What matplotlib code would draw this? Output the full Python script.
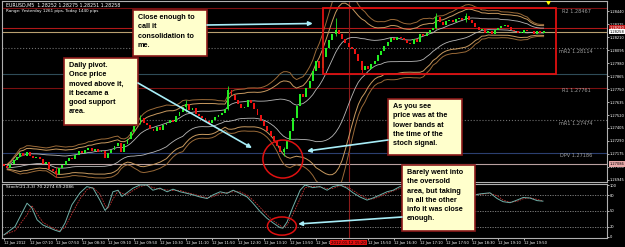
import matplotlib
matplotlib.use('Agg')
import matplotlib.pyplot as plt
from matplotlib.patches import Ellipse, Rectangle
import numpy as np
import pandas as pd

# EURUSD M5, 12 Jan 2012 (bar 0 = 06:30)
first_open = 1.2709
closes = [
    1.2707, 1.2705, 1.2709, 1.2712, 1.2715, 1.2718, 1.2716, 1.2719, 1.2716, 1.2714,
    1.2715, 1.2713, 1.2709, 1.2710, 1.2704, 1.2702, 1.2700, 1.2705, 1.2708, 1.2711,
    1.2714, 1.2713, 1.2717, 1.2720, 1.2718, 1.2721, 1.2723, 1.2720, 1.2722, 1.2719,
    1.2720, 1.2714, 1.2718, 1.2721, 1.2725, 1.2727, 1.2719, 1.2726, 1.2731, 1.2737,
    1.2742, 1.2746, 1.2749, 1.2745, 1.2743, 1.2740, 1.2738, 1.2741, 1.2739, 1.2743,
    1.2745, 1.2748, 1.2746, 1.2751, 1.2755, 1.2759, 1.2762, 1.2756, 1.2758, 1.2753,
    1.2751, 1.2749, 1.2747, 1.2745, 1.2748, 1.2750, 1.2752, 1.2754, 1.2757, 1.2774,
    1.2770, 1.2765, 1.2762, 1.2758, 1.2759, 1.2765, 1.2763, 1.2757, 1.2752, 1.2747,
    1.2742, 1.2738, 1.2733, 1.2729, 1.2725, 1.2719, 1.2722, 1.2730, 1.2738, 1.2749,
    1.2760, 1.2771, 1.2768, 1.2776, 1.2782, 1.2791, 1.2800, 1.2794, 1.2803, 1.2811,
    1.2818, 1.2824, 1.2827, 1.2824, 1.2819, 1.2816, 1.2812, 1.2810, 1.2806, 1.2800,
    1.2792, 1.2795, 1.2793, 1.2797, 1.2800, 1.2805, 1.2809, 1.2813, 1.2817, 1.2820,
    1.2818, 1.2821, 1.2820, 1.2818, 1.2816, 1.2815, 1.2819, 1.2817, 1.2824, 1.2822,
    1.2825, 1.2827, 1.2829, 1.2839, 1.2834, 1.2832, 1.2835, 1.2836, 1.2834, 1.2837,
    1.2838, 1.2836, 1.2840, 1.2836, 1.2833, 1.2830, 1.2827, 1.2828, 1.2825, 1.2826,
    1.2824, 1.2827, 1.2829, 1.2831, 1.2832, 1.2830, 1.2827, 1.2826, 1.2825, 1.2825,
    1.2827, 1.2826, 1.2826, 1.2824, 1.2826, 1.2825, 1.2826,
]
# a few visible wicks
wick_bars = [16, 42, 56, 69, 86, 102, 110, 133, 142]
wick_hi   = [1.2706, 1.2752, 1.2765, 1.2778, 1.2724, 1.2838, 1.2797, 1.2842, 1.2842]
wick_lo   = [1.2697, 1.2744, 1.2755, 1.2756, 1.2716, 1.2822, 1.2789, 1.2828, 1.2834]

pivot_names  = ['R2', 'mR2', 'R1', 'mR1', 'DPV']
pivot_values = [1.28467, 1.28114, 1.27761, 1.27474, 1.27186]
pivot_colors = ['#7a1010', '#707070', '#7a1010', '#707070', '#2b3f70']
pivot_styles = ['-', ':', '-', ':', '-']
other_levels = [1.27882, 1.27086]
other_colors = ['#2f4c58', '#b8a0a0']
ask, bid = 1.28290, 1.28258

price_ticks = [1.28440, 1.28325, 1.28210, 1.28095, 1.27980, 1.27865, 1.27750,
               1.27635, 1.27520, 1.27405, 1.27290, 1.27175, 1.27060, 1.26945]

stoch_bar = [0, 3.4, 7.1, 8.6, 10.2, 12, 14.2, 15.7, 17.2, 18.8, 20.9, 23.4, 25.5,
             27.4, 29.5, 31.1, 32, 33.5, 35.1, 36.3, 37.8, 39.7, 41.8, 44, 45.8, 48,
             50.2, 52, 54.2, 56.3, 58.2, 60.3, 62.5, 64.3, 66.5, 68.6, 70.5, 72.6,
             74.8, 76.6, 78.8, 80.9, 82.8, 84.9, 85.8, 87.1, 88.9, 91.1, 92.6, 95,
             97.2, 99.4, 101.2, 103.4, 105.5, 107.4, 109.5, 111.7, 113.5, 115.7,
             117.8, 119.7, 121.8, 125, 128, 131, 134, 137, 140, 143, 145, 146.5,
             149.5, 151.7, 153.5, 155.7, 157.8, 159.7, 161.8, 164, 165.8]
stoch_k = [4, 20, 65, 56, 33, 23, 17, 13, 10, 27, 62, 85, 97, 94, 71, 51, 58, 87,
           90, 78, 85, 94, 100, 100, 90, 94, 87, 92, 87, 84, 81, 77, 74, 81, 87,
           84, 90, 84, 77, 65, 49, 36, 27, 18, 17, 29, 58, 90, 100, 95, 97, 90, 97,
           100, 94, 85, 77, 71, 75, 81, 87, 90, 97, 93, 90, 94, 96, 91, 88, 84, 81,
           83, 85, 74, 68, 66, 71, 76, 75, 70, 69]
stoch_levels = [80, 50, 20]
stoch_ticks = [100, 80, 50, 20, 0]

time_bars = list(range(0, 161, 8))
time_labels = ['12 Jan 2012', '12 Jan 07:10', '12 Jan 07:50', '12 Jan 08:30',
               '12 Jan 09:10', '12 Jan 09:50', '12 Jan 10:30', '12 Jan 11:10',
               '12 Jan 11:50', '12 Jan 12:30', '12 Jan 13:10', '12 Jan 13:50',
               '12 Jan 14:30', '', '12 Jan 15:50', '12 Jan 16:30',
               '12 Jan 17:10', '12 Jan 17:50', '12 Jan 18:30', '12 Jan 19:10',
               '12 Jan 19:50']
cursor_bar = 106

# ---------------------------------------------------------------------------
W, H = 625, 247
fig = plt.figure(figsize=(W / 100, H / 100), dpi=100, facecolor='black')


def axrect(x0, y0, x1, y1):
    return [x0 / W, 1 - y1 / H, (x1 - x0) / W, (y1 - y0) / H]


ax = fig.add_axes(axrect(2, 1, 607, 182), facecolor='black')
sx = fig.add_axes(axrect(2, 184, 607, 238), facecolor='black', sharex=ax)

n = len(closes)
bars = np.arange(n)
opens = [first_open] + closes[:-1]
s = pd.Series(closes)
ma = s.rolling(20, min_periods=2).mean()
sd = s.rolling(20, min_periods=2).std(ddof=0)
for k, col, lw in [(2.5, '#9a6a38', 0.7), (2, '#c89a60', 0.7), (1, '#b8b8b8', 0.6)]:
    ax.plot(bars, ma + k * sd, color=col, lw=lw, zorder=2)
    ax.plot(bars, ma - k * sd, color=col, lw=lw, zorder=2)

for lvl, col, ls in zip(pivot_values, pivot_colors, pivot_styles):
    ax.axhline(lvl, color=col, ls=ls, lw=0.8, zorder=1)
for name, lvl in zip(pivot_names, pivot_values):
    ax.text(176, lvl - 0.00006, f'{name} {lvl:.5f}', color='#a0a0a0', fontsize=3.6,
            ha='center', va='top', zorder=3)
for lvl, col in zip(other_levels, other_colors):
    ax.axhline(lvl, color=col, lw=0.8, zorder=1)
ax.axhline(ask, color='#b01818', lw=0.8, zorder=1)
ax.axhline(bid, color='#b8a070', lw=0.8, zorder=1)

up = np.array(closes) >= np.array(opens)
body_lo = np.minimum(opens, closes)
body_h = np.maximum(np.abs(np.array(closes) - np.array(opens)), 0.00004)
colors = np.where(up, '#22ee22', '#ee1111')
for b, hi, lo in zip(wick_bars, wick_hi, wick_lo):
    ax.vlines(b, lo, hi, color=colors[b], lw=0.6, zorder=3)
ax.bar(bars, body_h, bottom=body_lo, width=0.6, color=colors, zorder=4)

ax.axvline(cursor_bar, color='#8b1a1a', lw=0.8, zorder=1)
sx.axvline(cursor_bar, color='#8b1a1a', lw=0.8, zorder=1)

ax.set_ylim(1.26927, 1.28529)
ax.set_xlim(-0.6, 185.5)
ax.yaxis.tick_right()
ax.set_yticks(price_ticks)
ax.set_yticklabels([f'{t:.5f}' for t in price_ticks])
ax.tick_params(axis='y', colors='white', labelsize=2.6, length=1.2, width=0.5, pad=0.6)
ax.tick_params(axis='x', bottom=False, labelbottom=False)

# bid / ask tags on the price scale
tag_tr = ax.get_yaxis_transform()
for lvl, fc, tc in [(ask, '#c01818', 'white'), (bid, 'white', 'black'),
                    (other_levels[1], '#e8a8a8', 'black')]:
    ax.text(1.004, lvl, f'{lvl:.5f}', transform=tag_tr, fontsize=2.6, color=tc,
            va='center', ha='left', bbox=dict(fc=fc, ec='none', pad=0.4))
ax.plot([n + 0.5], [1.2852], marker='v', color='yellow', ms=2.5, zorder=5)

ax.text(0.5, 1.2851, 'EURUSD,M5  1.28252 1.28275 1.28251 1.28258', color='white',
        fontsize=3.4, va='top', ha='left')
ax.text(0.5, 1.28455, 'Range: Yesterday 1261 pips, Today 1440 pips', color='white',
        fontsize=3.0, va='top', ha='left')

# stochastic
sig = pd.Series(stoch_k).rolling(2, min_periods=1).mean()
for lvl in stoch_levels:
    sx.axhline(lvl, color='#8a8a8a', ls=(0, (1.5, 1.5)), lw=0.6, zorder=1)
sx.plot(stoch_bar, sig, color='#c03030', lw=0.6, ls=(0, (2, 1.2)), zorder=2)
sx.plot(stoch_bar, stoch_k, color='#70b0a8', lw=0.7, zorder=3)
sx.set_ylim(-2, 102)
sx.yaxis.tick_right()
sx.set_yticks(stoch_ticks)
sx.tick_params(axis='y', colors='white', labelsize=2.6, length=1.2, width=0.5, pad=0.6)
sx.set_xticks(time_bars)
sx.set_xticklabels(time_labels, ha='left')
sx.tick_params(axis='x', colors='white', labelsize=2.6, length=1.2, width=0.5, pad=1)
sx.text(0.5, 101, 'Stoch(21,3,3) 70.2274 69.2086', color='white', fontsize=3.2,
        va='top', ha='left')
sx.text(cursor_bar, -7, '2012.01.12 15:20', color='black', fontsize=2.8, ha='center',
        va='top', zorder=10, clip_on=False,
        bbox=dict(fc='#e01010', ec='none', pad=0.6))

for a in (ax, sx):
    for sp in a.spines.values():
        sp.set_color('#b0b0b0')
        sp.set_linewidth(0.8)

# annotations
ax.add_patch(Rectangle((98.2, 1.27882), 71.6, 0.00585, fill=False, ec='#e01010', lw=1.3, zorder=6))
ax.add_patch(Ellipse((85.8, 1.27130), 12.3, 0.00336, fill=False, ec='#e01010', lw=1.1, zorder=6))
sx.add_patch(Ellipse((85.5, 21), 8.9, 35, fill=False, ec='#e01010', lw=1.1, zorder=6))

ov = fig.add_axes([0, 0, 1, 1], zorder=10)
ov.set_xlim(0, W)
ov.set_ylim(H, 0)
ov.axis('off')
ov.patch.set_alpha(0)

notes = [
    ((133, 10, 207, 56), 'Close enough to\ncall it\nconsolidation to\nme.'),
    ((64, 58, 138, 125), 'Daily pivot.\nOnce price\nmoved above it,\nit became a\ngood support\narea.'),
    ((388, 99, 462, 155), 'As you see\nprice was at the\nlower bands at\nthe time of the\nstoch signal.'),
    ((402, 165, 475, 231), 'Barely went into\nthe oversold\narea, but taking\nin all the other\ninfo it was close\nenough.'),
]
for (x0, y0, x1, y1), txt in notes:
    ov.add_patch(Rectangle((x0, y0), x1 - x0, y1 - y0, fc='#ffffcc', ec='#8b1a1a', lw=1.2))
    ov.text(x0 + 5, y0 + 4, txt, fontsize=5.2, fontweight='bold', family='Liberation Sans',
            color='black', va='top', ha='left', linespacing=1.45)

arrows = [
    ((207, 25), ax, (95, 1.2833)),
    ((138, 83), ax, (76.3, 1.27228)),
    ((388, 140), ax, (93.2, 1.27201)),
    ((402, 217), sx, (90.5, 25)),
]
for start, a, tip in arrows:
    ov.annotate('', xy=tip, xycoords=a.transData, xytext=start, textcoords='data',
                arrowprops=dict(arrowstyle='-|>', color='#a8eef8', lw=1.2,
                                mutation_scale=6, shrinkA=0, shrinkB=0))

fig.savefig('out.png', dpi=100, facecolor='black')
